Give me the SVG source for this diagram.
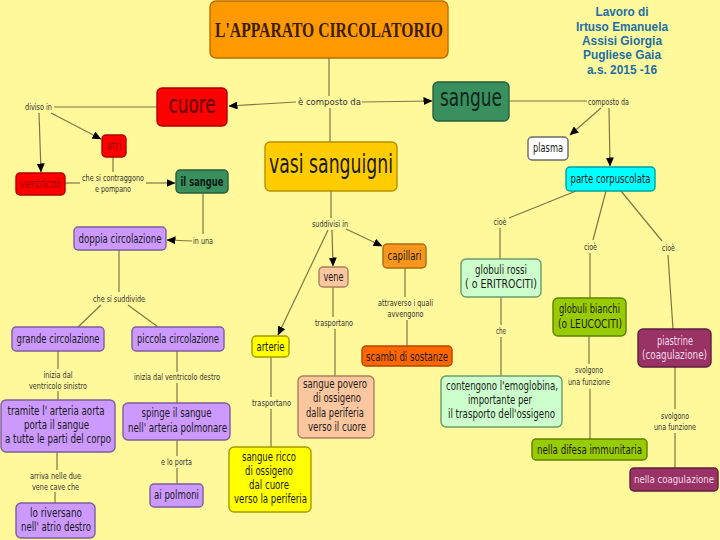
<svg xmlns="http://www.w3.org/2000/svg" width="720" height="540" viewBox="0 0 720 540">
<defs>
<marker id="ar" markerUnits="userSpaceOnUse" markerWidth="9" markerHeight="8" refX="8.5" refY="4" orient="auto"><path d="M0,0 L9,4 L0,8 z" fill="#000"/></marker>
<style>
.bx{stroke-width:1.4}
.t{font-family:"DejaVu Sans Condensed","Liberation Sans Narrow","DejaVu Sans","Liberation Sans",sans-serif;font-size:12.5px;fill:#1a1a1a;text-anchor:middle}
.big{font-size:25px}
.sm{font-size:11.5px}
.l{font-family:"DejaVu Sans Condensed","Liberation Sans Narrow","DejaVu Sans","Liberation Sans",sans-serif;font-size:8.5px;fill:#333;text-anchor:middle}
.cr{font-family:"Liberation Sans",Arial,sans-serif;font-weight:bold;font-size:13px;fill:#1c6ea4;text-anchor:middle}
.ttl{font-family:"Liberation Serif","DejaVu Serif",serif;font-weight:bold;font-size:22px;fill:#3a1d00;text-anchor:middle}
#conn path{fill:none;stroke:#7f7545;stroke-width:1.2}
.red{fill:#ff0000;stroke:#b00000}
.grn{fill:#3a8f5e;stroke:#255f3d}
.pur{fill:#cc99ff;stroke:#7c5ea0}
.yel{fill:#ffff00;stroke:#a89a00}
.pch{fill:#fcc79f;stroke:#a8805f}
.org{fill:#ff9900;stroke:#b86d00}
.dor{fill:#ff6600;stroke:#b04500}
.cyn{fill:#00ffff;stroke:#00a0a0}
.lg{fill:#ccffcc;stroke:#6b9a6b}
.ol{fill:#99cc00;stroke:#5f8000}
.mar{fill:#993366;stroke:#5f1f40}
.lt{fill:#f7d9e8;font-size:11.5px}
</style>
</defs>
<rect width="720" height="540" fill="#fff99b"/>

<g id="credits">
<text class="cr" x="622" y="16" textLength="53" lengthAdjust="spacingAndGlyphs">Lavoro di</text>
<text class="cr" x="622" y="30.5" textLength="92" lengthAdjust="spacingAndGlyphs">Irtuso Emanuela</text>
<text class="cr" x="622" y="45" textLength="80" lengthAdjust="spacingAndGlyphs">Assisi Giorgia</text>
<text class="cr" x="622" y="59" textLength="78" lengthAdjust="spacingAndGlyphs">Pugliese Gaia</text>
<text class="cr" x="622" y="74" textLength="70" lengthAdjust="spacingAndGlyphs">a.s. 2015 -16</text>
</g>

<g id="conn">
<path d="M329,58 V96"/>
<path d="M330,108 V142"/>
<path d="M296,102 L229,106" marker-end="url(#ar)"/>
<path d="M362,102 L432,101" marker-end="url(#ar)"/>
<path d="M157,107 H54"/>
<path d="M39,113 L41,172" marker-end="url(#ar)"/>
<path d="M51,113 L101,139" marker-end="url(#ar)"/>
<path d="M113,157 V172"/>
<path d="M65,183 H80"/>
<path d="M146,183 H175" marker-end="url(#ar)"/>
<path d="M203,193 V234"/>
<path d="M192,241 L167,240" marker-end="url(#ar)"/>
<path d="M119,250 V292"/>
<path d="M101,305 L78,327"/>
<path d="M128,305 L158,327"/>
<path d="M58,351 V369"/>
<path d="M58,391 V400"/>
<path d="M177,351 V372"/>
<path d="M177,383 V403"/>
<path d="M57,452 V470"/>
<path d="M55,492 V503"/>
<path d="M177,440 V456"/>
<path d="M177,468 V484"/>
<path d="M331,191 V218"/>
<path d="M332,230 L333,266" marker-end="url(#ar)"/>
<path d="M346,229 L382,246" marker-end="url(#ar)"/>
<path d="M328,230 L278,335" marker-end="url(#ar)"/>
<path d="M333,287 V317"/>
<path d="M335,329 V376"/>
<path d="M405,268 V297"/>
<path d="M407,320 V346"/>
<path d="M271,357 V397"/>
<path d="M271,409 V447"/>
<path d="M509,101 H587"/>
<path d="M601,108 L570,135" marker-end="url(#ar)"/>
<path d="M609,108 L610,166" marker-end="url(#ar)"/>
<path d="M576,191 L509,218"/>
<path d="M500,228 V259"/>
<path d="M606,191 L593,240"/>
<path d="M590,253 V298"/>
<path d="M621,191 L662,241"/>
<path d="M668,255 L673,329"/>
<path d="M501,297 V325"/>
<path d="M501,337 V376"/>
<path d="M589,336 V364"/>
<path d="M590,389 V439"/>
<path d="M675,367 V409"/>
<path d="M675,433 V468"/>
</g>

<g id="labels">
<text class="l" x="38.5" y="110" textLength="27" lengthAdjust="spacingAndGlyphs">diviso in</text>
<text class="l" x="329.5" y="105" textLength="63" lengthAdjust="spacingAndGlyphs">è composto da</text>
<text class="l" x="113" y="181" textLength="62" lengthAdjust="spacingAndGlyphs">che si contraggono</text>
<text class="l" x="113" y="192" textLength="36" lengthAdjust="spacingAndGlyphs">e pompano</text>
<text class="l" x="203" y="244" textLength="20" lengthAdjust="spacingAndGlyphs">in una</text>
<text class="l" x="119" y="302" textLength="52" lengthAdjust="spacingAndGlyphs">che si suddivide</text>
<text class="l" x="58" y="378" textLength="29" lengthAdjust="spacingAndGlyphs">inizia dal</text>
<text class="l" x="58" y="389" textLength="58" lengthAdjust="spacingAndGlyphs">ventricolo sinistro</text>
<text class="l" x="177" y="380" textLength="86" lengthAdjust="spacingAndGlyphs">inizia dal ventricolo destro</text>
<text class="l" x="55.5" y="479" textLength="51" lengthAdjust="spacingAndGlyphs">arriva nelle due</text>
<text class="l" x="55.5" y="490" textLength="47" lengthAdjust="spacingAndGlyphs">vene cave che</text>
<text class="l" x="176.5" y="465" textLength="31" lengthAdjust="spacingAndGlyphs">e lo porta</text>
<text class="l" x="330" y="227" textLength="36" lengthAdjust="spacingAndGlyphs">suddivisi in</text>
<text class="l" x="334" y="326" textLength="38" lengthAdjust="spacingAndGlyphs">trasportano</text>
<text class="l" x="405.5" y="306" textLength="55" lengthAdjust="spacingAndGlyphs">attraverso i quali</text>
<text class="l" x="405.5" y="317" textLength="36" lengthAdjust="spacingAndGlyphs">avvengono</text>
<text class="l" x="271.5" y="406" textLength="39" lengthAdjust="spacingAndGlyphs">trasportano</text>
<text class="l" x="608.5" y="105" textLength="41" lengthAdjust="spacingAndGlyphs">composto da</text>
<text class="l" x="500" y="225" textLength="13" lengthAdjust="spacingAndGlyphs">cioè</text>
<text class="l" x="590.5" y="250" textLength="13" lengthAdjust="spacingAndGlyphs">cioè</text>
<text class="l" x="668.5" y="251" textLength="13" lengthAdjust="spacingAndGlyphs">cioè</text>
<text class="l" x="501" y="334" textLength="10" lengthAdjust="spacingAndGlyphs">che</text>
<text class="l" x="589" y="372.5" textLength="28" lengthAdjust="spacingAndGlyphs">svolgono</text>
<text class="l" x="589" y="385" textLength="42" lengthAdjust="spacingAndGlyphs">una funzione</text>
<text class="l" x="675" y="418.5" textLength="28" lengthAdjust="spacingAndGlyphs">svolgono</text>
<text class="l" x="675" y="430" textLength="42" lengthAdjust="spacingAndGlyphs">una funzione</text>
</g>

<g id="title"><rect class="bx org" x="210" y="1" width="238" height="57" rx="6"/><text class="ttl" x="329" y="37" textLength="228" lengthAdjust="spacingAndGlyphs">L'APPARATO CIRCOLATORIO</text></g>
<g id="cuore"><rect class="bx red" x="157" y="88" width="70" height="38" rx="5"/><text class="t big" x="192" y="113" textLength="47" lengthAdjust="spacingAndGlyphs" style="fill:#5e0000">cuore</text></g>
<g id="sangue"><rect class="bx grn" x="433" y="82" width="76" height="39" rx="5"/><text class="t big" x="471" y="106" textLength="62" lengthAdjust="spacingAndGlyphs" style="fill:#10261a">sangue</text></g>
<g id="vasi"><rect class="bx" x="265" y="142" width="132" height="49" rx="5" fill="#ffcc00" stroke="#b89000"/><text class="t big" x="331" y="173" textLength="124" lengthAdjust="spacingAndGlyphs" style="font-size:26px">vasi sanguigni</text></g>
<g id="atri"><rect class="bx red" x="102" y="135" width="24" height="22" rx="4"/><text class="t sm" x="114" y="150" textLength="15" lengthAdjust="spacingAndGlyphs" style="fill:#a00000">atri</text></g>
<g id="ventricoli"><rect class="bx red" x="16" y="173" width="49" height="22" rx="4"/><text class="t sm" x="40.5" y="188" textLength="41" lengthAdjust="spacingAndGlyphs" style="fill:#a00000">ventricoli</text></g>
<g id="ilsangue"><rect class="bx grn" x="176" y="170" width="52" height="23" rx="4"/><text class="t sm" x="202" y="186" textLength="43" lengthAdjust="spacingAndGlyphs" style="font-weight:bold;fill:#0a1a10">il sangue</text></g>
<g id="doppia"><rect class="bx pur" x="74" y="227" width="92" height="23" rx="4"/><text class="t" x="120" y="243" textLength="83" lengthAdjust="spacingAndGlyphs">doppia circolazione</text></g>
<g id="grande"><rect class="bx pur" x="12" y="327" width="92" height="24" rx="4"/><text class="t" x="58" y="343" textLength="83" lengthAdjust="spacingAndGlyphs">grande circolazione</text></g>
<g id="piccola"><rect class="bx pur" x="132" y="327" width="92" height="24" rx="4"/><text class="t" x="178" y="343" textLength="82" lengthAdjust="spacingAndGlyphs">piccola circolazione</text></g>
<g id="tramite"><rect class="bx pur" x="1" y="400" width="114" height="52" rx="5"/>
<text class="t" x="56" y="415" textLength="97" lengthAdjust="spacingAndGlyphs">tramite l' arteria aorta</text>
<text class="t" x="56.5" y="429" textLength="65" lengthAdjust="spacingAndGlyphs">porta il sangue</text>
<text class="t" x="58" y="443" textLength="106" lengthAdjust="spacingAndGlyphs">a tutte le parti del corpo</text></g>
<g id="spinge"><rect class="bx pur" x="123" y="403" width="107" height="37" rx="5"/>
<text class="t" x="176.5" y="417" textLength="70" lengthAdjust="spacingAndGlyphs">spinge il sangue</text>
<text class="t" x="177.5" y="432" textLength="99" lengthAdjust="spacingAndGlyphs">nell' arteria polmonare</text></g>
<g id="polmoni"><rect class="bx pur" x="150" y="484" width="53" height="23" rx="4"/><text class="t" x="176.5" y="499" textLength="45" lengthAdjust="spacingAndGlyphs">ai polmoni</text></g>
<g id="riversano"><rect class="bx pur" x="16" y="503" width="79" height="35" rx="5"/>
<text class="t" x="56" y="517" textLength="52" lengthAdjust="spacingAndGlyphs">lo riversano</text>
<text class="t" x="56" y="531" textLength="70" lengthAdjust="spacingAndGlyphs">nell' atrio destro</text></g>
<g id="arterie"><rect class="bx yel" x="252" y="336" width="37" height="21" rx="4"/><text class="t" x="270.5" y="351" textLength="28" lengthAdjust="spacingAndGlyphs">arterie</text></g>
<g id="vene"><rect class="bx pch" x="319" y="267" width="29" height="20" rx="4"/><text class="t" x="333.5" y="281" textLength="20" lengthAdjust="spacingAndGlyphs">vene</text></g>
<g id="capillari"><rect class="bx" x="383" y="244" width="43" height="24" rx="4" fill="#f8961e" stroke="#b06a10"/><text class="t" x="404.5" y="260" textLength="34" lengthAdjust="spacingAndGlyphs">capillari</text></g>
<g id="scambi"><rect class="bx dor" x="362" y="346" width="90" height="20" rx="4"/><text class="t" x="407" y="361" textLength="82" lengthAdjust="spacingAndGlyphs">scambi di sostanze</text></g>
<g id="ricco"><rect class="bx yel" x="229" y="447" width="82" height="65" rx="5"/>
<text class="t" x="269" y="461" textLength="54" lengthAdjust="spacingAndGlyphs">sangue ricco</text>
<text class="t" x="269" y="475" textLength="48" lengthAdjust="spacingAndGlyphs">di ossigeno</text>
<text class="t" x="269" y="489" textLength="40" lengthAdjust="spacingAndGlyphs">dal cuore</text>
<text class="t" x="270.5" y="503" textLength="73" lengthAdjust="spacingAndGlyphs">verso la periferia</text></g>
<g id="povero"><rect class="bx pch" x="298" y="376" width="76" height="62" rx="5"/>
<text class="t" x="335" y="388" textLength="64" lengthAdjust="spacingAndGlyphs">sangue povero</text>
<text class="t" x="337" y="402" textLength="48" lengthAdjust="spacingAndGlyphs">di ossigeno</text>
<text class="t" x="335" y="417" textLength="58" lengthAdjust="spacingAndGlyphs">dalla periferia</text>
<text class="t" x="337" y="431" textLength="58" lengthAdjust="spacingAndGlyphs">verso il cuore</text></g>
<g id="plasma"><rect class="bx" x="528" y="137" width="40" height="23" rx="4" fill="#ffffff" stroke="#6a6a6a"/><text class="t" x="548" y="152" textLength="30" lengthAdjust="spacingAndGlyphs">plasma</text></g>
<g id="parte"><rect class="bx cyn" x="566" y="167" width="89" height="24" rx="4"/><text class="t" x="610.5" y="183" textLength="80" lengthAdjust="spacingAndGlyphs">parte corpuscolata</text></g>
<g id="rossi"><rect class="bx lg" x="461" y="259" width="80" height="38" rx="5"/>
<text class="t" x="501" y="274" textLength="52" lengthAdjust="spacingAndGlyphs">globuli rossi</text>
<text class="t" x="501" y="288" textLength="72" lengthAdjust="spacingAndGlyphs">( o ERITROCITI)</text></g>
<g id="bianchi"><rect class="bx ol" x="553" y="298" width="73" height="38" rx="5"/>
<text class="t" x="589.5" y="313" textLength="61" lengthAdjust="spacingAndGlyphs">globuli bianchi</text>
<text class="t" x="590" y="328" textLength="64" lengthAdjust="spacingAndGlyphs">(o LEUCOCITI)</text></g>
<g id="piastrine"><rect class="bx mar" x="638" y="329" width="73" height="38" rx="5"/>
<text class="t lt" x="675" y="345" textLength="36" lengthAdjust="spacingAndGlyphs">piastrine</text>
<text class="t lt" x="674.5" y="359" textLength="65" lengthAdjust="spacingAndGlyphs">(coagulazione)</text></g>
<g id="contengono"><rect class="bx lg" x="441" y="376" width="121" height="51" rx="5"/>
<text class="t" x="502" y="390" textLength="112" lengthAdjust="spacingAndGlyphs">contengono l'emoglobina,</text>
<text class="t" x="500" y="404" textLength="64" lengthAdjust="spacingAndGlyphs">importante per</text>
<text class="t" x="501.5" y="418" textLength="107" lengthAdjust="spacingAndGlyphs">il trasporto dell'ossigeno</text></g>
<g id="difesa"><rect class="bx ol" x="532" y="439" width="115" height="21" rx="4"/><text class="t" x="589.5" y="454" textLength="105" lengthAdjust="spacingAndGlyphs">nella difesa immunitaria</text></g>
<g id="coagulazione"><rect class="bx mar" x="630" y="468" width="88" height="23" rx="4"/><text class="t lt" x="674" y="483" textLength="80" lengthAdjust="spacingAndGlyphs" style="font-size:11px">nella coagulazione</text></g>
</svg>
